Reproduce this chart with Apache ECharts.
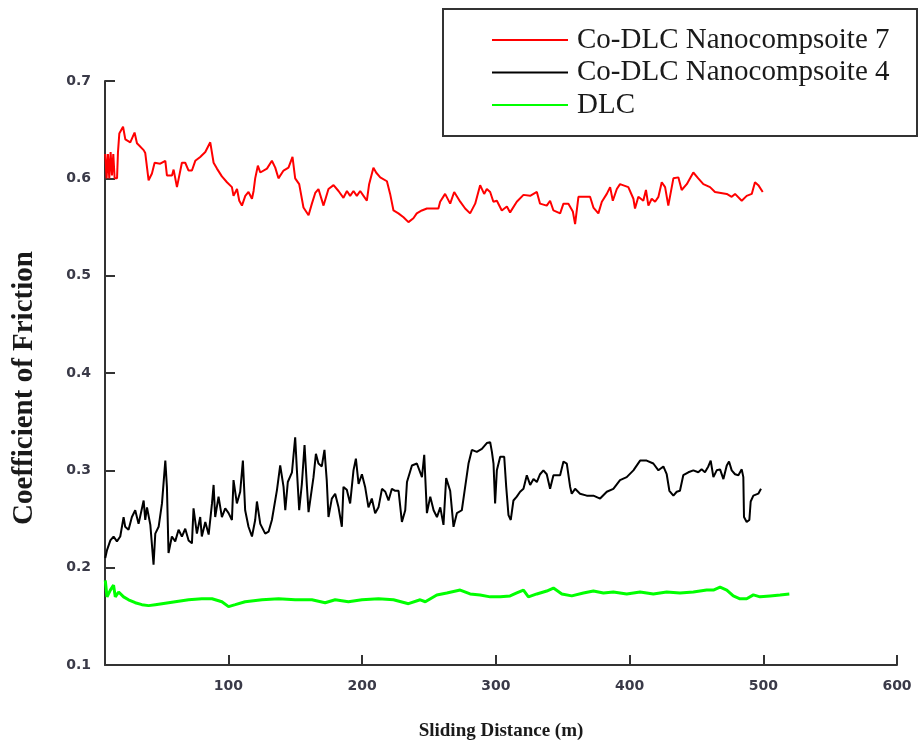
<!DOCTYPE html>
<html>
<head>
<meta charset="utf-8">
<script src="https://cdn.jsdelivr.net/npm/echarts@6/dist/echarts.min.js"></script>
<style>
  html, body { margin: 0; padding: 0; background: #fff; }
  #chart { width: 918px; height: 746px; }
</style>
</head>
<body>
<div id="chart"></div>
<script>
// Coefficient of friction vs. sliding distance for three coatings

const seriesNames = ['Co-DLC Nanocompsoite 7', 'Co-DLC Nanocompsoite 4', 'DLC'];
const xTickValues = [100, 200, 300, 400, 500, 600];

// Co-DLC Nanocompsoite 7
const nc7Distance = [8, 9, 10, 11, 12, 13, 14, 15, 16.8, 17.5, 18.5, 21.3, 23, 26.7, 29.9, 31.7, 36.7, 37.9, 40.4, 42.9, 44.9, 49.1, 52.9, 54.1, 57.9, 59.1, 61.6, 65.3, 67.8, 70.3, 72.8, 75.3, 79, 82.8, 86.5, 89, 91.5, 95.2, 99, 102.7, 103.9, 106.5, 108.2, 110.2, 112.7, 115.1, 117.7, 118.9, 120.1, 122.1, 123.9, 128.9, 132.6, 135.1, 137.5, 141.3, 145, 148, 150, 153, 156.2, 160, 162.5, 165, 167.4, 171.2, 174.9, 178.7, 182.4, 186.1, 188.7, 191.1, 193.6, 196.1, 198.6, 201.1, 203.6, 205.3, 208.5, 210.5, 213.6, 218.6, 221, 223.5, 227.2, 231, 234.7, 238.4, 240.9, 244.7, 248.5, 257.1, 258.4, 262.1, 265.9, 268.9, 273.4, 277.1, 280.8, 284.6, 288.3, 291.3, 293.3, 295.8, 298.2, 300.8, 304.5, 308.3, 310.7, 315.7, 320.7, 325.7, 330.7, 333.1, 338.1, 340.6, 343.1, 348.1, 350.6, 354.3, 357.6, 359.3, 361.8, 370.5, 373, 376.7, 379.3, 383, 385.5, 387.5, 390.5, 392.9, 399.1, 402.9, 404.1, 406.6, 410.3, 412.3, 414.1, 416.6, 419.1, 421.6, 424.1, 426.6, 429, 432.8, 436.5, 439, 442.8, 447.7, 451.4, 455.2, 460.2, 463.9, 472.7, 476.4, 478.9, 483.9, 487.6, 491.4, 493.8, 496.3, 499.6];
const nc7Cof = [0.625, 0.600, 0.625, 0.600, 0.627, 0.603, 0.625, 0.600, 0.600, 0.627, 0.646, 0.653, 0.640, 0.637, 0.647, 0.636, 0.629, 0.626, 0.598, 0.605, 0.616, 0.615, 0.618, 0.603, 0.603, 0.609, 0.591, 0.616, 0.616, 0.608, 0.608, 0.618, 0.622, 0.627, 0.637, 0.616, 0.610, 0.602, 0.596, 0.591, 0.582, 0.589, 0.577, 0.572, 0.582, 0.586, 0.579, 0.587, 0.600, 0.613, 0.606, 0.610, 0.618, 0.611, 0.600, 0.608, 0.611, 0.622, 0.600, 0.594, 0.570, 0.562, 0.574, 0.585, 0.589, 0.572, 0.589, 0.593, 0.587, 0.580, 0.587, 0.582, 0.587, 0.582, 0.587, 0.582, 0.577, 0.594, 0.611, 0.606, 0.601, 0.597, 0.584, 0.567, 0.564, 0.560, 0.555, 0.559, 0.564, 0.567, 0.569, 0.569, 0.576, 0.584, 0.574, 0.586, 0.576, 0.569, 0.564, 0.574, 0.593, 0.584, 0.589, 0.586, 0.576, 0.577, 0.567, 0.571, 0.565, 0.576, 0.583, 0.582, 0.586, 0.574, 0.572, 0.577, 0.567, 0.564, 0.574, 0.574, 0.566, 0.553, 0.581, 0.581, 0.570, 0.564, 0.576, 0.584, 0.591, 0.577, 0.589, 0.594, 0.591, 0.579, 0.569, 0.581, 0.577, 0.588, 0.572, 0.579, 0.576, 0.581, 0.596, 0.591, 0.572, 0.600, 0.601, 0.588, 0.594, 0.606, 0.600, 0.594, 0.591, 0.586, 0.584, 0.581, 0.584, 0.577, 0.582, 0.584, 0.596, 0.593, 0.586];

// Co-DLC Nanocompsoite 4
const nc4Distance = [8, 9.3, 11.8, 14.2, 16.7, 19.2, 21.7, 22.9, 25.4, 27.9, 30.4, 32.9, 36.7, 37.9, 39.2, 41.7, 44.1, 45.4, 47.9, 50.4, 52.9, 54.1, 55.3, 57.8, 60.3, 62.8, 65.3, 67.8, 70.3, 72.8, 74, 76.5, 79, 80.2, 82.8, 85.3, 87.8, 89, 90.2, 92.7, 95.2, 97.7, 100.2, 102.7, 103.9, 106.4, 108.9, 110.9, 112.6, 115.1, 117.7, 120.1, 121.4, 123.9, 127.6, 130.1, 132.6, 136.4, 138.8, 141.3, 142.6, 144.5, 147.6, 150, 151.3, 153, 155, 157, 158.8, 160, 163.7, 165.5, 167.4, 169.9, 171.9, 173.6, 174.9, 177.4, 179.9, 182.4, 184.9, 186.1, 188.6, 191.1, 193.6, 195.4, 197.4, 199.9, 202.3, 204.8, 207.3, 209.8, 212.3, 214.9, 217.4, 219.8, 222.3, 224.8, 227.3, 229.8, 232.3, 233.6, 237.3, 241, 244.8, 246.5, 248.5, 251, 253.5, 256, 258.5, 260.9, 262.9, 265.9, 268.4, 270.9, 274.6, 277.1, 279.6, 282.1, 285.8, 289.6, 293.3, 295.8, 297.1, 298.3, 299.5, 300.8, 303.3, 306.3, 307.8, 309.5, 311.2, 313.2, 315.7, 318.2, 320.7, 323.2, 325.7, 328.2, 330.7, 333.1, 335.6, 338.1, 340.6, 343.1, 348.1, 350.6, 353.1, 355.6, 356.8, 359.3, 363, 368, 373, 378, 383, 387.9, 392.9, 397.9, 402.9, 407.9, 412.8, 417.8, 421.6, 425.3, 427.8, 429.8, 432.8, 435.3, 437.7, 440.2, 444, 447.7, 451.4, 453.9, 456.4, 458.9, 460.7, 462.7, 465.2, 467.7, 470.2, 472.7, 474.4, 476.4, 478.9, 481.4, 483.9, 485.1, 485.6, 487.6, 489.6, 490.6, 492.6, 496.3, 498.3];
const nc4Cof = [0.210, 0.218, 0.228, 0.232, 0.227, 0.232, 0.252, 0.242, 0.239, 0.252, 0.259, 0.245, 0.269, 0.249, 0.262, 0.244, 0.203, 0.235, 0.242, 0.266, 0.310, 0.283, 0.215, 0.232, 0.227, 0.239, 0.232, 0.240, 0.228, 0.225, 0.261, 0.235, 0.252, 0.232, 0.247, 0.234, 0.266, 0.285, 0.252, 0.273, 0.252, 0.261, 0.256, 0.249, 0.290, 0.266, 0.278, 0.310, 0.259, 0.242, 0.232, 0.249, 0.268, 0.245, 0.235, 0.237, 0.249, 0.280, 0.305, 0.283, 0.259, 0.288, 0.298, 0.334, 0.300, 0.259, 0.286, 0.326, 0.283, 0.257, 0.293, 0.317, 0.307, 0.304, 0.321, 0.290, 0.252, 0.271, 0.276, 0.262, 0.242, 0.283, 0.280, 0.266, 0.300, 0.312, 0.286, 0.296, 0.283, 0.262, 0.271, 0.256, 0.262, 0.281, 0.278, 0.269, 0.281, 0.279, 0.279, 0.247, 0.259, 0.288, 0.305, 0.307, 0.293, 0.316, 0.256, 0.273, 0.259, 0.252, 0.262, 0.244, 0.292, 0.279, 0.242, 0.256, 0.259, 0.283, 0.307, 0.321, 0.319, 0.322, 0.328, 0.329, 0.319, 0.307, 0.266, 0.300, 0.314, 0.314, 0.283, 0.254, 0.249, 0.269, 0.273, 0.278, 0.281, 0.295, 0.285, 0.291, 0.288, 0.296, 0.300, 0.296, 0.281, 0.295, 0.295, 0.309, 0.307, 0.283, 0.276, 0.281, 0.276, 0.274, 0.274, 0.271, 0.278, 0.281, 0.290, 0.293, 0.300, 0.310, 0.310, 0.307, 0.300, 0.304, 0.296, 0.279, 0.274, 0.278, 0.279, 0.295, 0.298, 0.300, 0.298, 0.301, 0.298, 0.304, 0.310, 0.293, 0.300, 0.301, 0.291, 0.305, 0.309, 0.300, 0.296, 0.295, 0.301, 0.293, 0.252, 0.247, 0.249, 0.268, 0.274, 0.276, 0.281];

// DLC
const dlcDistance = [8, 9.3, 11.8, 14.2, 15.5, 18, 21.7, 25.4, 30.4, 35.4, 40.4, 45.4, 50.4, 60.3, 70.3, 80.2, 87.8, 95.2, 100.2, 105.2, 112.6, 125.2, 137.6, 150, 162.5, 172.4, 179.9, 189.8, 199.9, 212.3, 223.5, 234.7, 243.5, 247.3, 255.9, 263.4, 273.4, 280.8, 288.3, 295.8, 303.3, 310.7, 315.7, 320.7, 324.4, 330.7, 338.1, 343.1, 349.4, 356.8, 365.5, 373, 380.5, 387.9, 397.9, 407.9, 417.8, 427.8, 437.7, 447.7, 457.7, 462.7, 467.7, 472.7, 477.6, 482.6, 487.6, 492.6, 497.6, 505.1, 512.6, 519.5];
const dlcCof = [0.187, 0.170, 0.177, 0.182, 0.170, 0.175, 0.170, 0.167, 0.164, 0.162, 0.161, 0.162, 0.163, 0.165, 0.167, 0.168, 0.168, 0.165, 0.160, 0.162, 0.165, 0.167, 0.168, 0.167, 0.167, 0.164, 0.167, 0.165, 0.167, 0.168, 0.167, 0.163, 0.167, 0.165, 0.172, 0.174, 0.177, 0.173, 0.172, 0.170, 0.170, 0.171, 0.174, 0.177, 0.170, 0.173, 0.176, 0.179, 0.173, 0.171, 0.174, 0.176, 0.174, 0.175, 0.173, 0.175, 0.173, 0.175, 0.174, 0.175, 0.177, 0.177, 0.180, 0.177, 0.171, 0.168, 0.168, 0.172, 0.170, 0.171, 0.172, 0.173];

const zip = (xs, ys) => xs.map((x, i) => [x, ys[i]]);

const chart = echarts.init(document.getElementById('chart'), null, { renderer: 'canvas' });

const axisColor = '#333';
const tickFont = { fontFamily: 'DejaVu Sans, Verdana, sans-serif', fontWeight: 'bold', fontSize: 14, color: '#3a3a48' };
const serif = 'Liberation Serif, Times New Roman, serif';

chart.setOption({
  animation: false,
  backgroundColor: '#ffffff',
  grid: { left: 105, right: 21, top: 81, bottom: 81, containLabel: false },
  xAxis: {
    type: 'value',
    min: 7.8,
    max: 600,
    name: 'Sliding Distance (m)',
    nameLocation: 'middle',
    nameGap: 57,
    nameTextStyle: { fontFamily: serif, fontWeight: 'bold', fontSize: 19, color: '#1a1a1a' },
    axisLine: { show: true, lineStyle: { color: axisColor, width: 2 } },
    axisTick: { show: true, inside: true, length: 10, lineStyle: { color: axisColor, width: 2 }, customValues: xTickValues },
    axisLabel: { ...tickFont, margin: 14, customValues: xTickValues },
    splitLine: { show: false }
  },
  yAxis: {
    type: 'value',
    min: 0.1,
    max: 0.7,
    interval: 0.1,
    name: 'Coefficient of Friction',
    nameLocation: 'middle',
    nameGap: 66,
    nameRotate: 90,
    nameTextStyle: { fontFamily: serif, fontWeight: 'bold', fontSize: 29, color: '#1a1a1a', padding: [0, 30, 0, 0] },
    axisLine: { show: true, lineStyle: { color: axisColor, width: 2 } },
    axisTick: { show: true, inside: true, length: 10, lineStyle: { color: axisColor, width: 2 } },
    axisLabel: { ...tickFont, margin: 14, formatter: v => v.toFixed(1) },
    splitLine: { show: false }
  },
  legend: {
    orient: 'vertical',
    left: 492,
    top: 25.5,
    padding: 0,
    itemGap: 3.5,
    itemWidth: 76,
    itemHeight: 2,
    icon: 'rect',
    data: seriesNames,
    textStyle: {
      fontFamily: serif,
      fontSize: 29,
      lineHeight: 29,
      color: '#1a1a1a',
      padding: [0, 0, 0, 4]
    }
  },
  graphic: [{
    type: 'rect',
    shape: { x: 443, y: 9, width: 474, height: 127 },
    style: { fill: 'none', stroke: '#333', lineWidth: 2 },
    z: 100
  }],
  series: [
    {
      name: seriesNames[0], type: 'line', showSymbol: false,
      color: '#ff0000', lineStyle: { color: '#ff0000', width: 2 },
      data: zip(nc7Distance, nc7Cof), z: 3
    },
    {
      name: seriesNames[1], type: 'line', showSymbol: false,
      color: '#000000', lineStyle: { color: '#000000', width: 2 },
      data: zip(nc4Distance, nc4Cof), z: 3
    },
    {
      name: seriesNames[2], type: 'line', showSymbol: false,
      color: '#00ff00', lineStyle: { color: '#00ff00', width: 3 },
      data: zip(dlcDistance, dlcCof), z: 3
    }
  ]
});
</script>
</body>
</html>
